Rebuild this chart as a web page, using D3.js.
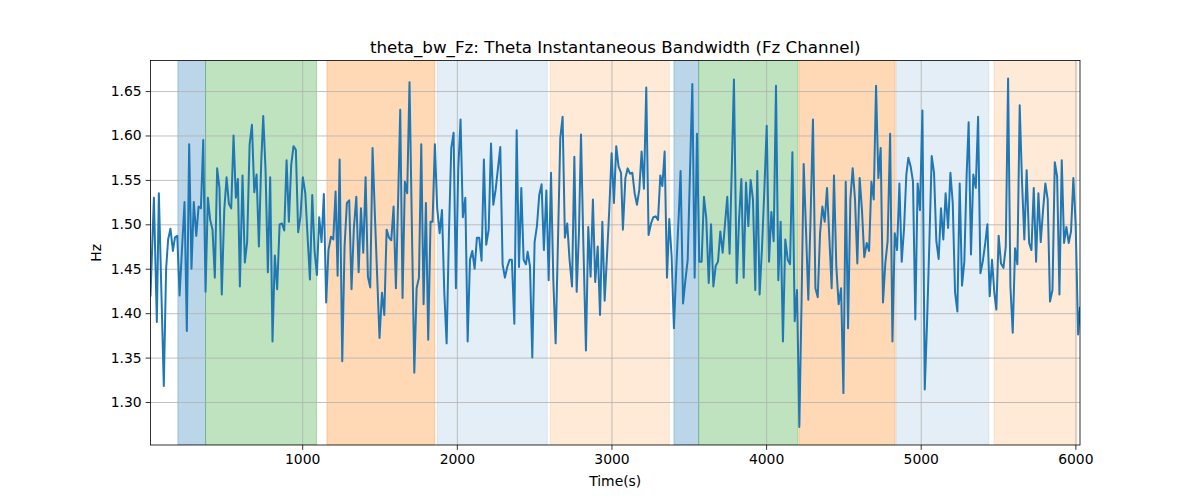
<!DOCTYPE html>
<html>
<head>
<meta charset="utf-8">
<script src="https://cdn.jsdelivr.net/npm/d3@7"></script>
<style>
  body { margin: 0; background: #fff; }
  svg text { font-family: "DejaVu Sans", sans-serif; fill: #000; }
</style>
</head>
<body>
<div id="chart"></div>
<script>
// データ: 時刻(秒)
var times = [
  19, 41, 60, 73, 105, 120, 133, 148, 164, 177, 192, 207, 222, 239, 254, 269, 284, 299, 315, 330,
  345, 360, 375, 390, 405, 420, 435, 450, 465, 480, 496, 511, 526, 541, 556, 571, 584,
  597, 614, 629, 644, 660, 675, 690, 705, 720, 735, 748, 763, 778, 793, 808, 823, 838, 854, 869,
  884, 899, 914, 929, 944, 959, 974, 989, 1004, 1020, 1035, 1050, 1065, 1080, 1095, 1110, 1125,
  1140, 1155, 1170, 1186, 1201,
  1216, 1229, 1242, 1259, 1274, 1289, 1304, 1319, 1334, 1350, 1365, 1380, 1395, 1410, 1425, 1440,
  1455, 1470, 1485, 1500, 1516, 1531, 1546, 1561, 1576, 1591, 1606, 1621, 1634, 1649, 1664, 1679,
  1694, 1725, 1740, 1755, 1770, 1785, 1800, 1815,
  1830, 1843, 1858, 1873, 1889, 1904, 1919, 1934, 1949, 1964, 1979, 1994, 2009, 2024, 2039, 2055,
  2070, 2085, 2100, 2115, 2130, 2145, 2160, 2175, 2190, 2206, 2221, 2236, 2251, 2266, 2281, 2296,
  2311, 2326, 2341, 2356, 2372, 2387, 2402, 2417, 2432,
  2447, 2458, 2473, 2488, 2503, 2518, 2533, 2548, 2563, 2579, 2594, 2609, 2624, 2639, 2654, 2669,
  2684, 2699, 2714, 2729, 2745, 2760, 2775, 2790, 2803, 2818, 2835, 2850, 2865, 2880, 2895, 2911,
  2926, 2941, 2956, 2971, 2986, 3001, 3016, 3031, 3046,
  3062, 3074, 3090, 3105, 3120, 3135, 3150, 3165, 3180, 3195, 3210, 3225, 3240, 3256, 3271, 3286,
  3301, 3316, 3329, 3344, 3359, 3374, 3389, 3404, 3419, 3435, 3447, 3463, 3478, 3493, 3508, 3523,
  3538, 3553, 3568, 3583, 3598, 3613, 3629, 3644, 3659,
  3674, 3689, 3704, 3719, 3734, 3749, 3764, 3780, 3792, 3810, 3825, 3840, 3855, 3870, 3885, 3900,
  3915, 3930, 3943, 3958, 3974, 3989, 4004, 4019, 4034, 4049, 4064, 4079, 4094, 4109, 4124, 4140,
  4155, 4170, 4185, 4200, 4215, 4230, 4243, 4258, 4273,
  4288, 4303, 4319, 4334, 4349, 4364, 4379, 4394, 4409, 4424, 4439, 4454, 4469, 4485, 4500, 4515,
  4530, 4545, 4560, 4575, 4590, 4605, 4620, 4635, 4651, 4666, 4681, 4696, 4711, 4726, 4741, 4756,
  4771, 4786, 4802, 4817, 4832, 4847, 4862, 4877, 4892,
  4907, 4920, 4935, 4950, 4965, 4980, 4995, 5011, 5026, 5041, 5056, 5071, 5086, 5101, 5116, 5131,
  5146, 5161, 5177, 5192, 5207, 5222, 5237, 5252, 5267, 5282, 5297, 5310, 5325, 5340, 5356, 5371,
  5386, 5401, 5416, 5431, 5446, 5461, 5476,
  5489, 5504, 5519, 5535, 5550, 5565, 5580, 5595, 5610, 5625, 5640, 5655, 5670, 5685, 5701, 5716,
  5731, 5746, 5761, 5776, 5791, 5806, 5821, 5836, 5852, 5867, 5882, 5897, 5912, 5927, 5942, 5957,
  5972, 5987, 6002, 6018, 6030
];

// データ: シータ帯域幅(Hz)
var bandwidth = [
  1.420, 1.530, 1.390, 1.535, 1.318, 1.450, 1.483, 1.495, 1.470, 1.485, 1.487, 1.420, 1.470, 1.525, 1.380, 1.590, 1.450, 1.525, 1.487, 1.520,
  1.518, 1.595, 1.424, 1.530, 1.505, 1.494, 1.440, 1.563, 1.541, 1.421, 1.516, 1.553, 1.523, 1.518, 1.600, 1.530, 1.551,
  1.430, 1.555, 1.457, 1.480, 1.590, 1.612, 1.536, 1.556, 1.475, 1.570, 1.622, 1.561, 1.446, 1.553, 1.368, 1.465, 1.427, 1.500, 1.501,
  1.493, 1.572, 1.503, 1.567, 1.588, 1.584, 1.491, 1.509, 1.553, 1.535, 1.486, 1.438, 1.533, 1.470, 1.443, 1.508, 1.480,
  1.534, 1.412, 1.471, 1.486, 1.483,
  1.537, 1.442, 1.573, 1.346, 1.475, 1.524, 1.527, 1.427, 1.495, 1.531, 1.446, 1.518, 1.468, 1.553, 1.441, 1.429,
  1.586, 1.511, 1.441, 1.372, 1.423, 1.398, 1.494, 1.485, 1.482, 1.520, 1.428, 1.531, 1.629, 1.417, 1.548, 1.535,
  1.660, 1.333, 1.428, 1.440, 1.590, 1.410, 1.524, 1.370,
  1.503, 1.503, 1.590, 1.518, 1.490, 1.516, 1.423, 1.366, 1.490, 1.586, 1.603, 1.428, 1.561, 1.618, 1.508, 1.530,
  1.368, 1.460, 1.470, 1.450, 1.485, 1.485, 1.459, 1.573, 1.477, 1.494, 1.591, 1.522, 1.539, 1.563, 1.587, 1.455,
  1.440, 1.452, 1.460, 1.460, 1.388, 1.606, 1.452, 1.541, 1.460,
  1.455, 1.469, 1.453, 1.350, 1.480, 1.498, 1.533, 1.545, 1.471, 1.538, 1.437, 1.558, 1.437, 1.366, 1.480, 1.597,
  1.621, 1.485, 1.501, 1.460, 1.430, 1.576, 1.424, 1.492, 1.601, 1.480, 1.358, 1.497, 1.441, 1.528, 1.435, 1.475,
  1.398, 1.503, 1.414, 1.464, 1.517, 1.580, 1.524, 1.588, 1.565,
  1.558, 1.494, 1.552, 1.563, 1.557, 1.558, 1.535, 1.522, 1.539, 1.582, 1.540, 1.654, 1.488, 1.501, 1.508, 1.509,
  1.505, 1.555, 1.543, 1.582, 1.440, 1.506, 1.464, 1.383, 1.450, 1.510, 1.560, 1.411, 1.437, 1.460, 1.560, 1.658,
  1.440, 1.602, 1.458, 1.458, 1.531, 1.507, 1.434, 1.500, 1.430,
  1.453, 1.458, 1.492, 1.468, 1.500, 1.531, 1.467, 1.576, 1.663, 1.434, 1.505, 1.551, 1.440, 1.547, 1.498, 1.550,
  1.528, 1.426, 1.560, 1.421, 1.475, 1.540, 1.611, 1.458, 1.514, 1.481, 1.656, 1.437, 1.503, 1.368, 1.483, 1.460,
  1.455, 1.581, 1.391, 1.426, 1.272, 1.420, 1.568, 1.494, 1.415,
  1.510, 1.618, 1.428, 1.418, 1.490, 1.520, 1.503, 1.541, 1.485, 1.428, 1.555, 1.453, 1.410, 1.428, 1.310, 1.548,
  1.383, 1.528, 1.563, 1.528, 1.456, 1.552, 1.516, 1.463, 1.479, 1.470, 1.548, 1.528, 1.656, 1.552, 1.586, 1.412,
  1.456, 1.481, 1.602, 1.368, 1.490, 1.471, 1.546, 1.458, 1.495,
  1.556, 1.575, 1.565, 1.548, 1.393, 1.546, 1.516, 1.628, 1.314, 1.390, 1.480, 1.577, 1.558, 1.481, 1.461, 1.518,
  1.483, 1.535, 1.496, 1.558, 1.524, 1.423, 1.402, 1.546, 1.431, 1.458, 1.556, 1.615, 1.466, 1.556, 1.541, 1.621,
  1.445, 1.458, 1.477, 1.500, 1.419, 1.460, 1.423,
  1.404, 1.487, 1.456, 1.451, 1.475, 1.664, 1.430, 1.378, 1.473, 1.455, 1.634, 1.548, 1.483, 1.561, 1.479, 1.471,
  1.541, 1.458, 1.535, 1.480, 1.516, 1.546, 1.528, 1.413, 1.426, 1.570, 1.554, 1.421, 1.572, 1.479, 1.497, 1.479,
  1.492, 1.552, 1.500, 1.376, 1.406
];

// 区間(秒)と区間の種類
var spanStart = [196, 375, 1160, 1873, 2604, 3404, 3564, 4213, 4840, 5474];
var spanEnd   = [375, 1093, 1858, 2585, 3374, 3564, 4206, 4834, 5440, 6010];
var spanKind  = ['A', 'B', 'C', 'D', 'E', 'A', 'B', 'C', 'D', 'E'];

// 目盛り
var xTicks = [1000, 2000, 3000, 4000, 5000, 6000];
var yTicks = [1.30, 1.35, 1.40, 1.45, 1.50, 1.55, 1.60, 1.65];

var titleText = 'theta_bw_Fz: Theta Instantaneous Bandwidth (Fz Channel)';

(function() {
  var width = 1200;
  var height = 500;
  var margin = { top: 60.5, right: 120, bottom: 55, left: 150.5 };
  var w = width - margin.left - margin.right;
  var h = height - margin.top - margin.bottom;

  // 区間の色
  var kindColor = {
    A: { color: '#1f77b4', alpha: 0.3 },
    B: { color: '#2ca02c', alpha: 0.3 },
    C: { color: '#ff7f0e', alpha: 0.3 },
    D: { color: '#1f77b4', alpha: 0.12 },
    E: { color: '#ff7f0e', alpha: 0.16 }
  };

  var xScale = d3.scaleLinear().domain([19, 6030]).range([0, w]);
  var yScale = d3.scaleLinear().domain([1.2516, 1.6844]).range([h, 0]);

  var svg = d3.select('#chart').append('svg')
    .attr('width', width).attr('height', height);

  var g = svg.append('g')
    .attr('transform', 'translate(' + margin.left + ',' + margin.top + ')');

  g.append('defs').append('clipPath').attr('id', 'clip')
    .append('rect').attr('width', w).attr('height', h);

  // 区間の塗り
  var spans = d3.range(spanStart.length);
  g.append('g').attr('clip-path', 'url(#clip)')
    .selectAll('rect').data(spans).enter()
    .append('rect')
    .attr('x', function(i) { return xScale(spanStart[i]); })
    .attr('width', function(i) { return xScale(spanEnd[i]) - xScale(spanStart[i]); })
    .attr('y', 0).attr('height', h)
    .attr('fill', function(i) { return kindColor[spanKind[i]].color; })
    .attr('fill-opacity', function(i) { return kindColor[spanKind[i]].alpha; })
    .attr('stroke', function(i) { return kindColor[spanKind[i]].color; })
    .attr('stroke-opacity', function(i) { return kindColor[spanKind[i]].alpha; })
    .attr('stroke-width', 1);

  // グリッド線
  g.append('g').attr('class', 'grid')
    .call(d3.axisBottom(xScale).tickValues(xTicks).tickSize(h).tickFormat(''))
    .call(function(s) { s.select('.domain').remove(); });
  g.append('g').attr('class', 'grid')
    .call(d3.axisLeft(yScale).tickValues(yTicks).tickSize(-w).tickFormat(''))
    .call(function(s) { s.select('.domain').remove(); });
  g.selectAll('.grid line').attr('stroke', '#b0b0b0').attr('stroke-width', 0.8);

  // ライン
  var line = d3.line()
    .x(function(d, i) { return xScale(times[i]); })
    .y(function(d) { return yScale(d); });

  g.append('g').attr('clip-path', 'url(#clip)')
    .append('path')
    .datum(bandwidth)
    .attr('d', line)
    .attr('fill', 'none')
    .attr('stroke', '#1f77b4')
    .attr('stroke-width', 2)
    .attr('stroke-linejoin', 'round')
    .attr('stroke-linecap', 'square');

  // 軸
  var xAxis = g.append('g')
    .attr('transform', 'translate(0,' + h + ')')
    .call(d3.axisBottom(xScale).tickValues(xTicks).tickSize(4.9).tickPadding(4).tickFormat(d3.format('d')));
  var yAxis = g.append('g')
    .call(d3.axisLeft(yScale).tickValues(yTicks).tickSize(4.9).tickPadding(4).tickFormat(d3.format('.2f')));

  [xAxis, yAxis].forEach(function(a) {
    a.select('.domain').remove();
    a.selectAll('line').attr('stroke', '#000').attr('stroke-width', 0.8);
    a.selectAll('text').style('font-size', '13.9px').attr('fill', '#000');
  });

  // 枠
  g.append('rect')
    .attr('width', w).attr('height', h)
    .attr('fill', 'none').attr('stroke', '#000').attr('stroke-width', 0.8);

  // タイトル・ラベル
  svg.append('text')
    .attr('x', margin.left + w / 2).attr('y', margin.top - 8)
    .attr('text-anchor', 'middle')
    .style('font-size', '16.7px')
    .text(titleText);

  svg.append('text')
    .attr('x', margin.left + w / 2).attr('y', height - 14)
    .attr('text-anchor', 'middle')
    .style('font-size', '13.9px')
    .text('Time(s)');

  svg.append('text')
    .attr('transform', 'translate(101,' + (margin.top + h / 2) + ') rotate(-90)')
    .attr('text-anchor', 'middle')
    .style('font-size', '13.9px')
    .text('Hz');
})();
</script>
</body>
</html>
